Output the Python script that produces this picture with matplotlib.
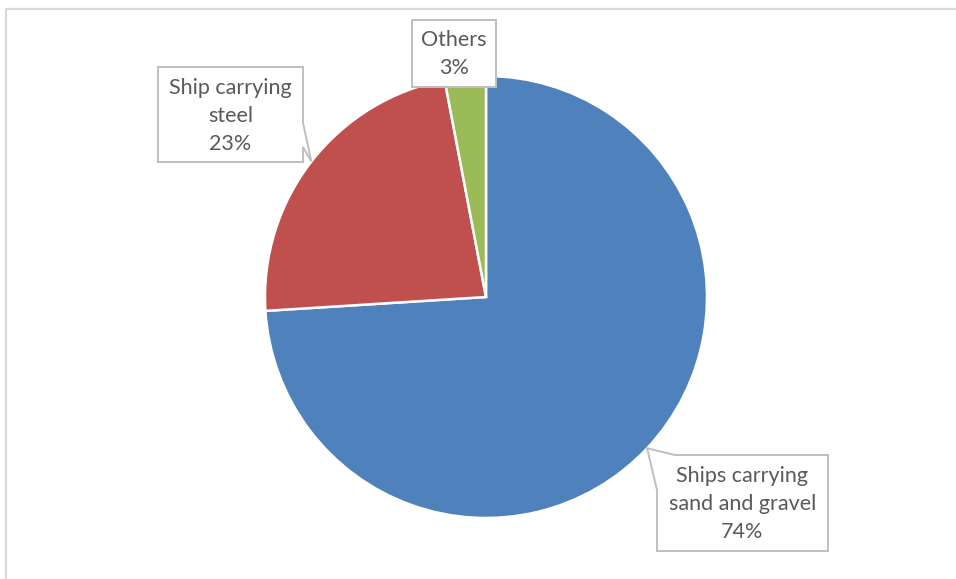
import numpy as np
import matplotlib.pyplot as plt
from matplotlib.transforms import Affine2D
from matplotlib.patches import Polygon
from matplotlib.lines import Line2D

# Share of ships by cargo type
categories = ["Ships carrying\nsand and gravel", "Ship carrying\nsteel", "Others"]
shares = [74, 23, 3]
colors = ["#4f81bd", "#c0504d", "#9bbb59"]

W, H = 956, 579
fig = plt.figure(figsize=(W / 100, H / 100), dpi=100)
fig.patch.set_facecolor("white")

# pixel coordinates measured from the top-left corner
px = Affine2D().scale(1 / W, -1 / H).translate(0, 1) + fig.transFigure

# chart-area frame (left and top edges visible)
fig.add_artist(Line2D([6, 6, W], [H, 9, 9], transform=px, color="#d9d9d9", lw=1.6))

cx, cy, R = 486, 297, 221
ax = fig.add_axes([(cx - R) / W, (H - cy - R) / H, 2 * R / W, 2 * R / H])
ax.pie(shares, colors=colors, startangle=90, counterclock=False, radius=1,
       wedgeprops=dict(edgecolor="white", linewidth=1.8))
ax.set_xlim(-1, 1)
ax.set_ylim(-1, 1)
ax.set_aspect("equal")
ax.axis("off")

# mid-angle of each slice (degrees, standard orientation)
total = float(sum(shares))
mids = []
start = 90.0
for v in shares:
    sweep = 360.0 * v / total
    mids.append(start - sweep / 2)
    start -= sweep


def edge_point(angle):
    a = np.deg2rad(angle)
    return cx + R * np.cos(a), cy - R * np.sin(a)


# label boxes: (left, top, right, bottom) in px, plus callout side
boxes = [
    (657, 455, 828, 551, "left"),
    (158, 67, 303, 162, "right"),
    (412, 20, 496, 87, None),
]

edge_col = "#bfbfbf"
for (cat, v, mid, (l, t, r, b, side)) in zip(categories, shares, mids, boxes):
    tip = edge_point(mid)
    if side == "right":
        pts = [(l, t), (r, t), (r, t + 56), tip, (r, t + 80), (r, b), (l, b)]
    elif side == "left":
        pts = [(l + 18, t), (r, t), (r, b), (l, b), (l, t + 35), tip]
    else:
        pts = [(l, t), (r, t), (r, b), (l, b)]
    fig.add_artist(Polygon(pts, closed=True, transform=px, facecolor="white",
                           edgecolor=edge_col, lw=1.4, zorder=5))
    fig.text((l + r) / 2, (t + b) / 2 + 1, f"{cat}\n{v}%", transform=px,
             ha="center", va="center", ma="center", fontsize=15.5,
             family="Lato", color="#595959", linespacing=1.5, zorder=6)

fig.savefig("out.png", dpi=100, facecolor="white")
